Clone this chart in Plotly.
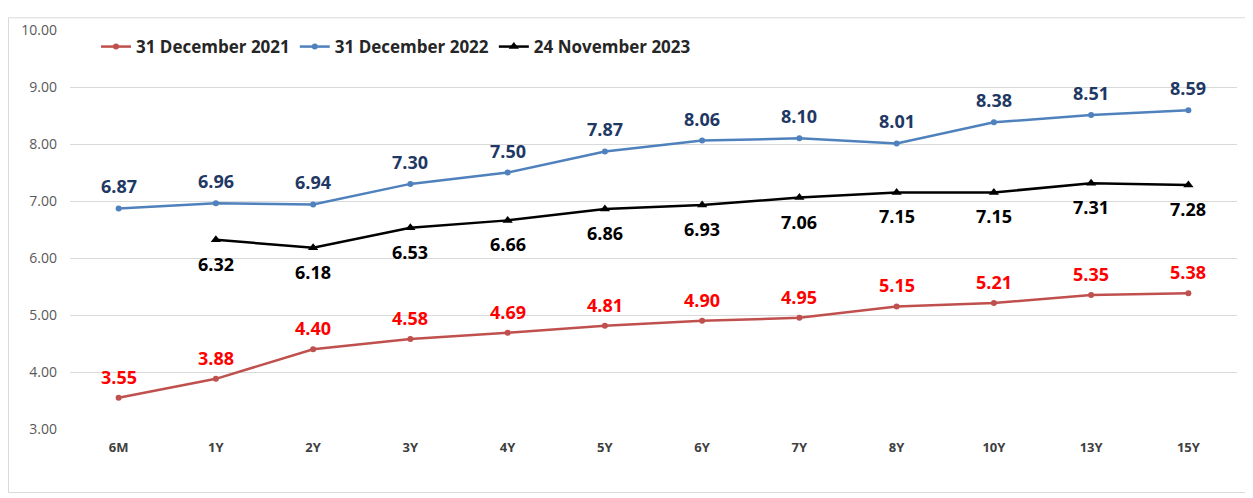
import plotly.graph_objects as go

tenors = ["6M", "1Y", "2Y", "3Y", "4Y", "5Y", "6Y", "7Y", "8Y", "10Y", "13Y", "15Y"]
dec_2021 = [3.55, 3.88, 4.40, 4.58, 4.69, 4.81, 4.90, 4.95, 5.15, 5.21, 5.35, 5.38]
dec_2022 = [6.87, 6.96, 6.94, 7.30, 7.50, 7.87, 8.06, 8.10, 8.01, 8.38, 8.51, 8.59]
nov_2023 = [None, 6.32, 6.18, 6.53, 6.66, 6.86, 6.93, 7.06, 7.15, 7.15, 7.31, 7.28]

series = [
    ("31 December 2021", dec_2021, "#C0504D", "circle", 6, "#FF0000", 21),
    ("31 December 2022", dec_2022, "#4F81BD", "circle", 6, "#1F3864", 22),
    ("24 November 2023", nov_2023, "#000000", "triangle-up", 9, "#000000", -24),
]

fig = go.Figure()
annotations = []
for name, vals, color, sym, msize, tcolor, shift in series:
    fig.add_trace(go.Scatter(
        x=tenors, y=vals, name=name, mode="lines+markers",
        line=dict(color=color, width=2.5),
        marker=dict(color=color, symbol=sym, size=msize),
        connectgaps=False,
    ))
    for t, v in zip(tenors, vals):
        if v is None:
            continue
        annotations.append(dict(
            x=t, y=v, xref="x", yref="y", text=f"{v:.2f}", showarrow=False,
            yshift=shift, font=dict(family="Open Sans", size=18, color=tcolor, weight="bold"),
        ))

# page body has an 8px margin, so figure coords = screen coords - 8
W, H = 1253, 498
ml, mr, mt, mb = 62, 24, 13, 77
pw = W - ml - mr
ph = H - mt - mb

fig.update_layout(
    width=W, height=H,
    margin=dict(l=ml, r=mr, t=mt, b=mb),
    paper_bgcolor="white", plot_bgcolor="white",
    font=dict(family="Open Sans", color="#595959"),
    showlegend=True,
    legend=dict(
        orientation="h", x=(88 - ml) / pw, y=1 - (12 - mt) / ph,
        xanchor="left", yanchor="top",
        font=dict(size=17, color="#262626", weight="bold"),
        bgcolor="rgba(0,0,0,0)", itemwidth=30, tracegroupgap=0,
    ),
    xaxis=dict(
        type="category", range=[-0.5, 11.5], showgrid=False,
        showline=False, zeroline=False, ticks="",
        tickfont=dict(size=13, color="#404040", weight="bold"),
        ticklabelstandoff=9,
    ),
    yaxis=dict(
        range=[3, 10], dtick=1, tickformat=".2f", showgrid=True,
        gridcolor="#D9D9D9", gridwidth=1, zeroline=False, showline=False,
        tickfont=dict(size=14, color="#595959"), ticks="",
        ticklabelstandoff=12,
    ),
    annotations=annotations,
    shapes=[dict(
        type="rect", xref="paper", yref="paper",
        x0=(0.5 - ml) / pw, x1=(1243 - ml) / pw,
        y0=1 - (486 - mt) / ph, y1=1 - (0.5 - mt) / ph,
        line=dict(color="#D9D9D9", width=1), layer="below",
    )],
)

fig.write_html("out.html")
